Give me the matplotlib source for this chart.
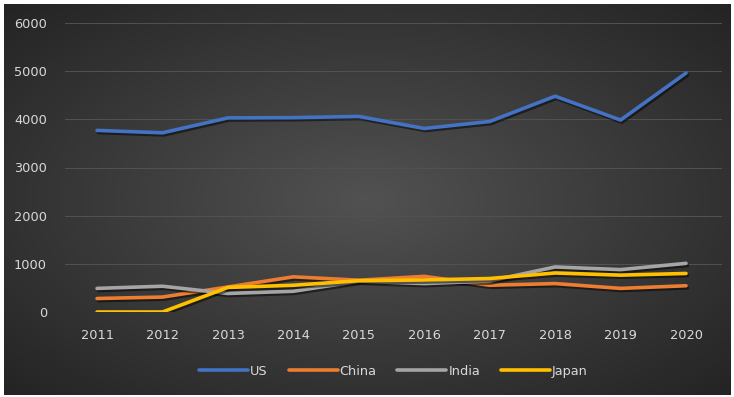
import numpy as np
import matplotlib.pyplot as plt
import matplotlib.patheffects as pe

years = ['2011', '2012', '2013', '2014', '2015', '2016', '2017', '2018', '2019', '2020']
us = [3770, 3720, 4030, 4035, 4060, 3810, 3955, 4480, 3985, 4960]
china = [280, 310, 520, 730, 660, 740, 555, 590, 490, 545]
india = [490, 535, 385, 430, 640, 590, 645, 935, 880, 1010]
japan = [0, 0, 510, 555, 650, 665, 695, 810, 765, 800]

names = ['US', 'China', 'India', 'Japan']
colors = ['#4472C4', '#ED7D31', '#A5A5A5', '#FFC000']

fig = plt.figure(figsize=(7.34, 3.97), dpi=100)
fig.patch.set_facecolor('white')

# dark radial gradient panel behind the chart
bg = fig.add_axes([4 / 734, 2 / 397, 727 / 734, 391 / 397])
gx, gy = np.meshgrid(np.linspace(-1, 1, 400), np.linspace(-1, 1, 220))
r = np.sqrt(gx ** 2 + gy ** 2) / np.sqrt(2)
shade = 0.32 - 0.18 * r
img = np.dstack([shade, shade, shade])
bg.imshow(img, aspect='auto', extent=[0, 1, 0, 1])
bg.set_axis_off()

ax = fig.add_axes([65 / 734, 85 / 397, 657 / 734, 289 / 397])
ax.set_facecolor('none')
x = np.arange(len(years))
series = [us, china, india, japan]
for vals, name, c in zip(series, names, colors):
    ax.plot(x, vals, color=c, lw=2.6, label=name, solid_capstyle='round',
            solid_joinstyle='round',
            path_effects=[pe.SimpleLineShadow(offset=(1, -1.5), alpha=0.5, shadow_color='black'),
                          pe.Normal()])

ax.set_xlim(-0.49, 9.55)
ax.set_ylim(0, 6000)
ax.set_yticks(range(0, 6001, 1000))
ax.set_xticks(x)
ax.set_xticklabels(years)
ax.grid(axis='y', color='#525252', lw=0.7)
ax.set_axisbelow(True)
for s in ax.spines.values():
    s.set_visible(False)
ax.tick_params(length=0, colors='#d9d9d9', labelsize=9.3)
ax.tick_params(axis='y', pad=13)
ax.tick_params(axis='x', pad=12)

leg = ax.legend(loc='center', bbox_to_anchor=(0.5, -0.205), ncol=4, frameon=False,
                fontsize=9.3, handlelength=3.8, handletextpad=0.15, columnspacing=1.6)
for t in leg.get_texts():
    t.set_color('#d9d9d9')
for h in leg.get_lines():
    h.set_path_effects([])
    h.set_linewidth(2.6)

fig.savefig('out.png', dpi=100)
